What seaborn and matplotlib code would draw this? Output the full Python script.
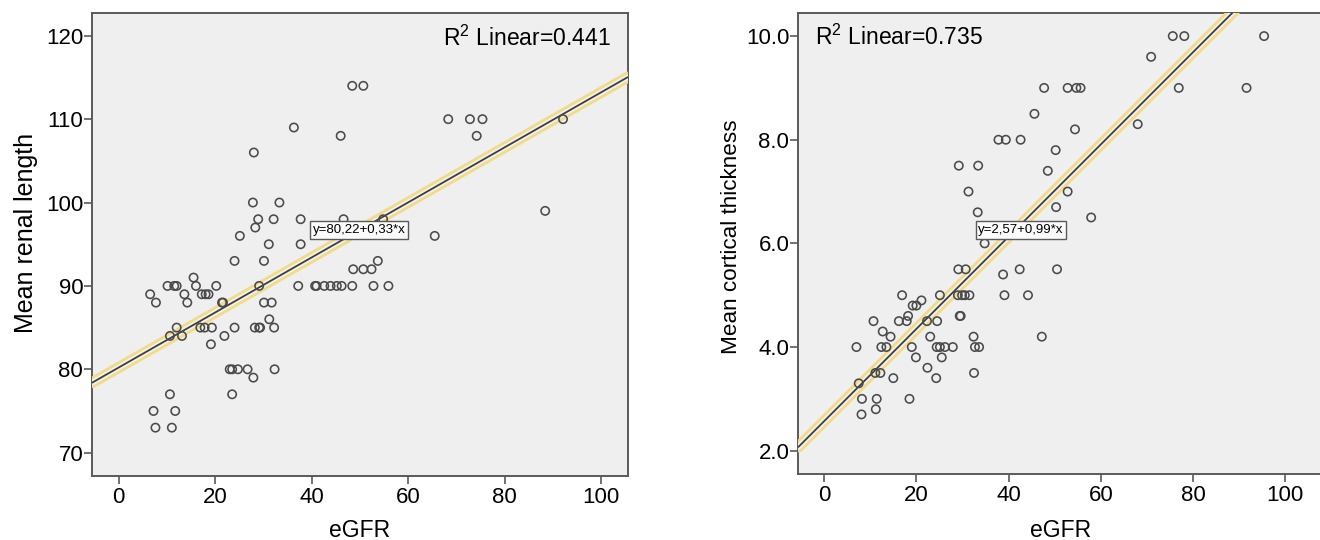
import numpy as np
import pandas as pd
import matplotlib
matplotlib.use('Agg')
import matplotlib.pyplot as plt
import matplotlib.patheffects as pe
import seaborn as sns

# ---------------------------------------------------------------------------
# Data
# ---------------------------------------------------------------------------
# Left panel: eGFR vs mean renal length
egfr_len = [6.5, 7.7, 10.1, 11.5, 12.0, 13.6, 14.2, 15.5, 16.0, 17.2, 18.0,
            18.6, 20.2, 21.4, 21.6, 21.9, 24.0, 24.0, 30.1, 29.1, 30.1, 31.7,
            31.2, 28.2, 29.1, 29.3, 32.2, 16.9, 17.8, 19.3, 12.0, 10.6, 13.1,
            19.1, 23.0, 23.5, 24.7, 26.7, 27.9, 32.3, 23.5, 10.6, 7.2, 11.7,
            7.6, 11.0,
            37.2, 40.7, 41.0, 42.6, 43.9, 45.2, 46.2, 48.4, 52.8, 55.9, 48.6,
            50.7, 52.4, 53.7,
            48.4, 50.7, 28.0, 36.3, 46.0, 27.8, 33.3, 28.9, 32.1, 37.7, 46.6,
            54.8, 28.3, 25.1, 31.1, 37.7,
            68.3, 72.8, 75.4, 74.2, 92.1, 88.4, 65.5]
renal_length = [89, 88, 90, 90, 90, 89, 88, 91, 90, 89, 89,
                89, 90, 88, 88, 84, 85, 93, 93, 90, 88, 88,
                86, 85, 85, 85, 85, 85, 85, 85, 85, 84, 84,
                83, 80, 80, 80, 80, 79, 80, 77, 77, 75, 75,
                73, 73,
                90, 90, 90, 90, 90, 90, 90, 90, 90, 90, 92,
                92, 92, 93,
                114, 114, 106, 109, 108, 100, 100, 98, 98, 98, 98,
                98, 97, 96, 95, 95,
                110, 110, 110, 108, 110, 99, 96]

# Right panel: eGFR vs mean cortical thickness
egfr_ct = [37.8, 39.4, 42.6, 29.2, 33.4, 31.3, 47.7, 52.8, 54.7, 55.6, 75.6,
           78.1, 95.4, 70.9, 76.9, 91.6, 45.6, 54.4, 50.2, 48.5, 52.8, 68.0,
           33.3, 50.3, 57.9, 34.8, 29.1, 30.7, 38.8, 42.4, 50.5, 39.1, 44.2,
           47.2, 25.1, 29.0, 29.9, 30.5, 31.5, 29.4, 29.6, 16.9, 21.1, 19.2,
           20.0, 18.2, 16.2, 17.9, 10.7, 22.3, 24.5, 12.7, 14.4, 23.0, 32.4,
           7.0, 12.4, 13.5, 19.0, 24.4, 25.1, 26.2, 27.9, 32.7, 33.6, 19.9,
           25.5, 22.4, 24.3, 15.0, 32.5, 11.1, 12.2, 7.5, 8.2, 11.4, 18.5,
           8.1, 11.2]
cortical = [8.0, 8.0, 8.0, 7.5, 7.5, 7.0, 9.0, 9.0, 9.0, 9.0, 10.0,
            10.0, 10.0, 9.6, 9.0, 9.0, 8.5, 8.2, 7.8, 7.4, 7.0, 8.3,
            6.6, 6.7, 6.5, 6.0, 5.5, 5.5, 5.4, 5.5, 5.5, 5.0, 5.0,
            4.2, 5.0, 5.0, 5.0, 5.0, 5.0, 4.6, 4.6, 5.0, 4.9, 4.8,
            4.8, 4.6, 4.5, 4.5, 4.5, 4.5, 4.5, 4.3, 4.2, 4.2, 4.2,
            4.0, 4.0, 4.0, 4.0, 4.0, 4.0, 4.0, 4.0, 4.0, 4.0, 3.8,
            3.8, 3.6, 3.4, 3.4, 3.5, 3.5, 3.5, 3.3, 3.0, 3.0, 3.0,
            2.7, 2.8]

# Fitted lines as drawn (intercept, slope) and the annotation texts
fit_len = (80.22, 0.33)
fit_ct = (2.57, 0.089)
eq_labels = ['y=80,22+0,33*x', 'y=2,57+0,99*x']
r2_labels = ['R$^{\\mathrm{2}}$ Linear=0.441', 'R$^{\\mathrm{2}}$ Linear=0.735']

# ---------------------------------------------------------------------------
# Style
# ---------------------------------------------------------------------------
sns.set_style('white')
plt.rcParams['font.family'] = ['Liberation Sans', 'DejaVu Sans']
plt.rcParams['mathtext.fontset'] = 'custom'
plt.rcParams['mathtext.rm'] = 'Liberation Sans'
plt.rcParams['mathtext.it'] = 'Liberation Sans'

FACE = '#efefef'
SPINE = '#5a5a5a'
PT = '#4a4a4a'
LINE = '#3c3d4c'
HALO = '#f0dc88'
FS = 16

df_len = pd.DataFrame({'eGFR': egfr_len, 'length': renal_length})
df_ct = pd.DataFrame({'eGFR': egfr_ct, 'thick': cortical})

fig = plt.figure(figsize=(13.2, 5.4), dpi=100)
ax1 = fig.add_axes([0.0699, 0.1185, 0.4056, 0.8569])
ax2 = fig.add_axes([0.6048, 0.1222, 0.3972, 0.8532])

panels = [
    (ax1, df_len, 'length', fit_len, (-5.5, 105.5), (67.2, 122.7),
     'Mean renal length', 18, np.arange(70, 121, 10), '{:.0f}'),
    (ax2, df_ct, 'thick', fit_ct, (-5.6, 108.1), (1.55, 10.44),
     'Mean cortical thickness', 16.2, np.arange(2, 10.1, 2), '{:.1f}'),
]

for ax, df, ycol, (b0, b1), xlim, ylim, ylab, ylab_fs, yticks, yfmt in panels:
    ax.set_facecolor(FACE)
    ax.set_xlim(*xlim)
    ax.set_ylim(*ylim)

    # regression line with yellow halo
    xs = np.array(xlim)
    ax.plot(xs, b0 + b1 * xs, color=LINE, lw=1.3, solid_capstyle='round',
            zorder=3,
            path_effects=[pe.Stroke(linewidth=8, foreground=HALO),
                          pe.Stroke(linewidth=4, foreground='#f4f2e6'),
                          pe.Normal()])

    sns.scatterplot(data=df, x='eGFR', y=ycol, ax=ax, s=36, marker='o',
                    facecolor='none', edgecolor=PT, linewidth=1.15, zorder=4)

    ax.set_xticks(np.arange(0, 101, 20))
    ax.set_yticks(yticks)
    ax.set_yticklabels([yfmt.format(v) for v in yticks])
    ax.tick_params(axis='both', direction='out', length=5.5, width=1.2,
                   color=SPINE, labelsize=FS, labelcolor='black',
                   bottom=True, left=True)
    ax.tick_params(axis='x', pad=2.5)
    ax.tick_params(axis='y', pad=1)
    for s in ax.spines.values():
        s.set_color(SPINE)
        s.set_linewidth(1.4)

    ax.set_xlabel('eGFR', fontsize=16.5, color='black')
    ax.set_ylabel(ylab, fontsize=ylab_fs, color='black')

# label positions
ax1.yaxis.set_label_coords(-0.101, 0.525)
ax2.yaxis.set_label_coords(-0.107, 0.515)
ax1.xaxis.set_label_coords(0.5, -0.093)
ax2.xaxis.set_label_coords(0.5, -0.098)

# R^2 texts
ax1.text(0.969, 0.947, r2_labels[0], transform=ax1.transAxes, ha='right',
         va='center', fontsize=16.5, color='black')
ax2.text(0.032, 0.947, r2_labels[1], transform=ax2.transAxes, ha='left',
         va='center', fontsize=16.5, color='black')

# equation boxes
box = dict(boxstyle='square,pad=0.2', fc='#fbfbfb', ec=SPINE, lw=1.0)
ax1.text(49.8, 96.7, eq_labels[0], ha='center', va='center', fontsize=9.5,
         bbox=box, zorder=5, color='black')
ax2.text(42.7, 6.26, eq_labels[1], ha='center', va='center', fontsize=9.5,
         bbox=box, zorder=5, color='black')

fig.savefig('out.png', dpi=100)
